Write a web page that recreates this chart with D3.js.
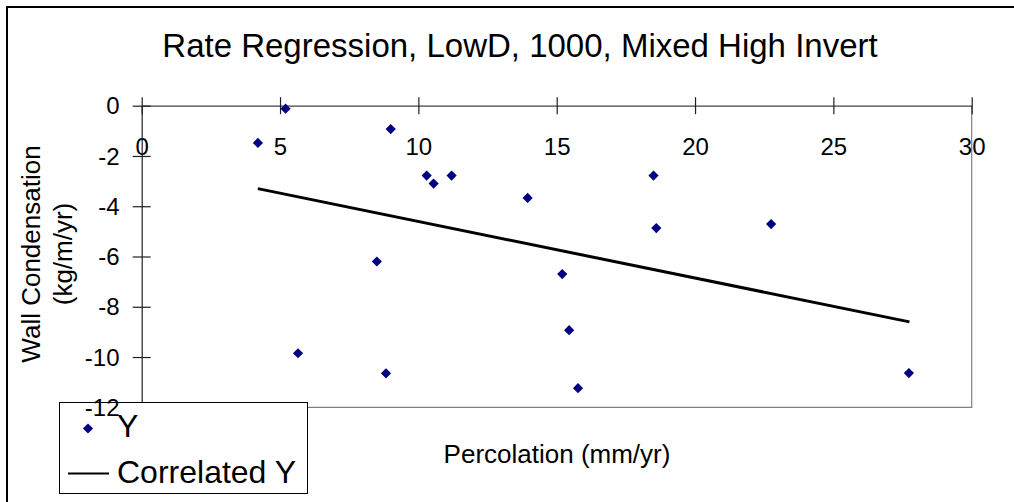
<!DOCTYPE html>
<html>
<head>
<meta charset="utf-8">
<script src="https://cdn.jsdelivr.net/npm/d3@7"></script>
<style>
  html, body { margin: 0; padding: 0; background: #fff; }
  svg { display: block; }
  text { font-family: "Liberation Sans", Arial, sans-serif; fill: #000; }
</style>
</head>
<body>
<script>
// ---- data ----
const titleText = "Rate Regression, LowD, 1000, Mixed High Invert";
const xLabel = "Percolation (mm/yr)";
const yLabelLines = ["Wall Condensation", "(kg/m/yr)"];
const seriesNames = ["Y", "Correlated Y"];
const xValues = [4.2, 5.2, 5.65, 8.5, 8.83, 9.0, 10.3, 10.55, 11.2, 13.95, 15.2, 15.45, 15.77, 18.5, 18.6, 22.75, 27.73];
const yValues = [-1.48, -0.12, -9.85, -6.2, -10.65, -0.93, -2.78, -3.1, -2.78, -3.67, -6.7, -8.93, -11.24, -2.78, -4.87, -4.71, -10.64];
const corrX = [4.2, 27.75];
const corrY = [-3.3, -8.6];
const xTicks = [0, 5, 10, 15, 20, 25, 30];
const yTicks = [0, -2, -4, -6, -8, -10, -12];

// ---- layout ----
const W = 1014, H = 502;
const svg = d3.select("body").append("svg").attr("width", W).attr("height", H);

const plot = { left: 141.7, right: 971.7, top: 105.7, bottom: 407.3 };
const x = d3.scaleLinear().domain([0, 30]).range([plot.left, plot.right]);
const y = d3.scaleLinear().domain([0, -12]).range([plot.top, plot.bottom]);

// outer chart border (left + top visible)
svg.append("path")
  .attr("d", `M7,${H + 5} L7,7 L${W + 5},7`)
  .attr("fill", "none").attr("stroke", "#000").attr("stroke-width", 2);

// title
svg.append("text").attr("x", 520).attr("y", 57)
  .attr("text-anchor", "middle").attr("font-size", 33).text(titleText);

// plot area frame (right + bottom grey)
svg.append("path")
  .attr("d", `M${plot.right},${plot.top} L${plot.right},${plot.bottom} L${plot.left},${plot.bottom}`)
  .attr("fill", "none").attr("stroke", "#808080").attr("stroke-width", 1.2);

// x axis at y=0 (top)
const xAxis = d3.axisBottom(x).tickValues(xTicks).tickSize(0).tickFormat("");
const gx = svg.append("g").attr("transform", `translate(0,${y(0)})`).call(xAxis);
gx.select(".domain").attr("stroke", "#404040").attr("stroke-width", 1.2);
gx.selectAll(".tick").append("line")
  .attr("y1", -8.5).attr("y2", 8.5).attr("stroke", "#202020").attr("stroke-width", 1.2);
gx.selectAll(".tick").append("text")
  .attr("y", 49.5).attr("text-anchor", "middle").attr("font-size", 24)
  .attr("fill", "#000").text(d => d);

// y axis line + ticks
const yAxis = d3.axisLeft(y).tickValues(yTicks).tickSize(0).tickFormat("");
const gy = svg.append("g").attr("transform", `translate(${x(0)},0)`).call(yAxis);
gy.select(".domain").attr("stroke", "#202020").attr("stroke-width", 1.2);
gy.selectAll(".tick").append("line")
  .attr("x1", -9).attr("x2", 9).attr("stroke", "#202020").attr("stroke-width", 1.2);

// data points
const diamond = d3.symbol(d3.symbolSquare, 52)();
svg.append("g").selectAll("path").data(xValues.map((v, i) => [v, yValues[i]]))
  .join("path")
  .attr("d", diamond)
  .attr("transform", d => `translate(${x(d[0])},${y(d[1])}) rotate(45)`)
  .attr("fill", "#000080");

// correlated line
svg.append("path")
  .datum(corrX.map((v, i) => [v, corrY[i]]))
  .attr("d", d3.line().x(d => x(d[0])).y(d => y(d[1])))
  .attr("fill", "none").attr("stroke", "#000").attr("stroke-width", 3);

// axis titles
svg.append("text").attr("x", 557).attr("y", 463)
  .attr("text-anchor", "middle").attr("font-size", 26).text(xLabel);
const yt = svg.append("g").attr("transform", "translate(40,254) rotate(-90)");
yt.append("text").attr("x", 0).attr("y", 0).attr("text-anchor", "middle")
  .attr("font-size", 26).text(yLabelLines[0]);
yt.append("text").attr("x", 0).attr("y", 32).attr("text-anchor", "middle")
  .attr("font-size", 26).text(yLabelLines[1]);

// legend
const lg = svg.append("g");
lg.append("rect").attr("x", 59.5).attr("y", 402.5).attr("width", 248).attr("height", 91)
  .attr("fill", "#fff").attr("stroke", "#000").attr("stroke-width", 1);
lg.append("path").attr("d", diamond)
  .attr("transform", "translate(88,428.5) rotate(45)").attr("fill", "#000080");
lg.append("text").attr("x", 117).attr("y", 437).attr("font-size", 32).text(seriesNames[0]);
lg.append("line").attr("x1", 68).attr("x2", 109).attr("y1", 473.5).attr("y2", 473.5)
  .attr("stroke", "#000").attr("stroke-width", 2);
lg.append("text").attr("x", 117).attr("y", 483).attr("font-size", 32).text(seriesNames[1]);

// y tick labels (drawn above legend, as in reference)
svg.append("g").selectAll("text").data(yTicks).join("text")
  .attr("x", 119.5).attr("y", d => y(d))
  .attr("dy", "0.36em")
  .attr("text-anchor", "end").attr("font-size", 24).text(d => d === 0 ? "0" : "-" + Math.abs(d));
</script>
</body>
</html>
